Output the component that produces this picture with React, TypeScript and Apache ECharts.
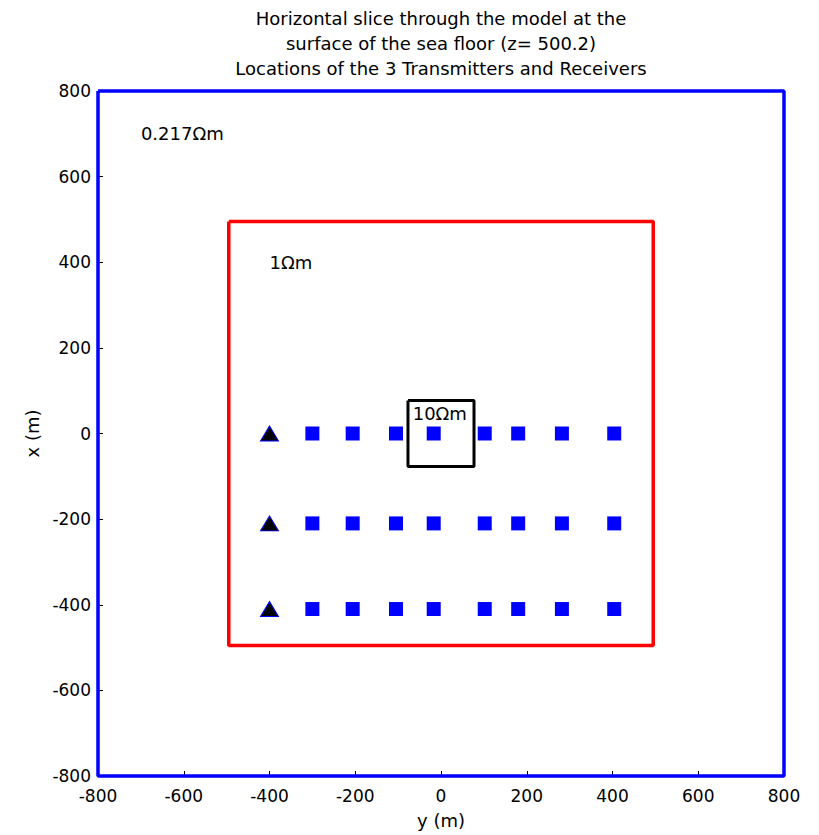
import React, { useEffect, useRef } from "react";
import * as echarts from "echarts";

// Title lines
const titleLines = [
  "Horizontal slice through the model at the",
  "surface of the sea floor (z= 500.2)",
  "Locations of the 3 Transmitters and Receivers",
];

// Axis ticks
const axisMin = -800;
const axisMax = 800;
const axisStep = 200;

// Model boundary boxes (y = horizontal, x = vertical)
const outerBoxY = [-800, 800, 800, -800, -800];
const outerBoxX = [800, 800, -800, -800, 800];
const midBoxY = [-495, 495, 495, -495, -495];
const midBoxX = [495, 495, -495, -495, 495];
const innerBoxY = [-77, 77, 77, -77, -77];
const innerBoxX = [77, 77, -77, -77, 77];

// Receivers: horizontal positions and rows
const receiverY = [-300, -206, -105, -17, 102, 180, 282, 404];
const rowX = [0, -210, -410];

// Transmitters
const transmitterY = [-400, -400, -400];
const transmitterX = [0, -210, -410];

// Resistivity labels
const labelText = ["0.217Ωm", "1Ωm", "10Ωm"];
const labelY = [-700, -400, -66];
const labelX = [700, 400, 47];

const FONT = "DejaVu Sans";

export default function App() {
  const ref = useRef<HTMLDivElement>(null);

  useEffect(() => {
    if (!ref.current) return;
    document.body.style.margin = "0";
    const chart = echarts.init(ref.current, null, { renderer: "svg" });

    const boxSeries = (ys: number[], xs: number[], color: string, width: number) => ({
      type: "line",
      data: ys.map((y, i) => [y, xs[i]]),
      symbol: "none",
      clip: false,
      lineStyle: { color, width, opacity: 1 },
      silent: true,
      z: 2,
    });

    const receivers: number[][] = [];
    rowX.forEach((x) => receiverY.forEach((y) => receivers.push([y, x])));

    chart.setOption({
      animation: false,
      backgroundColor: "#ffffff",
      title: {
        text: titleLines.join("\n"),
        left: "441",
        textAlign: "center",
        top: 6,
        padding: 0,
        textStyle: {
          fontFamily: FONT,
          fontSize: 18,
          fontWeight: "normal",
          lineHeight: 25,
          color: "#000",
        },
      },
      grid: { left: 98, top: 91, width: 686, height: 685, outerBoundsMode: "none", containLabel: false },
      xAxis: {
        type: "value",
        min: axisMin,
        max: axisMax,
        interval: axisStep,
        name: "y (m)",
        nameLocation: "middle",
        nameGap: 35,
        nameTextStyle: { fontFamily: FONT, fontSize: 18, color: "#000" },
        axisLine: { show: false, onZero: false },
        axisTick: { show: true, inside: true, length: 5, lineStyle: { color: "#000", width: 1 } },
        axisLabel: { fontFamily: FONT, fontSize: 17, color: "#000", margin: 11 },
        splitLine: { show: false },
      },
      yAxis: {
        type: "value",
        min: axisMin,
        max: axisMax,
        interval: axisStep,
        name: "x (m)",
        nameLocation: "middle",
        nameGap: 54,
        nameTextStyle: { fontFamily: FONT, fontSize: 18, color: "#000" },
        axisLine: { show: false, onZero: false },
        axisTick: { show: true, inside: true, length: 5, lineStyle: { color: "#000", width: 1 } },
        axisLabel: { fontFamily: FONT, fontSize: 17, color: "#000", margin: 7 },
        splitLine: { show: false },
      },
      series: [
        boxSeries(outerBoxY, outerBoxX, "#0000ff", 3.5),
        boxSeries(midBoxY, midBoxX, "#ff0000", 3.5),
        boxSeries(innerBoxY, innerBoxX, "#000000", 3),
        {
          type: "scatter",
          data: receivers,
          symbol: "rect",
          symbolSize: 14,
          itemStyle: { color: "#0000ff", opacity: 1 },
          z: 3,
        },
        {
          type: "scatter",
          data: transmitterY.map((y, i) => [y, transmitterX[i]]),
          symbol: "triangle",
          symbolSize: [18, 15],
          itemStyle: { color: "#000000", borderColor: "#0000ff", borderWidth: 1, opacity: 1 },
          z: 4,
        },
        {
          type: "scatter",
          data: labelY.map((y, i) => ({ value: [y, labelX[i]], name: labelText[i] })),
          symbolSize: 0,
          itemStyle: { opacity: 1 },
          label: {
            show: true,
            position: "right",
            distance: 0,
            formatter: (p: any) => p.name,
            fontFamily: FONT,
            fontSize: 18,
            color: "#000",
            opacity: 1,
          },
          z: 5,
        },
      ],
    });

    return () => chart.dispose();
  }, []);

  return <div ref={ref} style={{ width: 819, height: 835 }} />;
}
